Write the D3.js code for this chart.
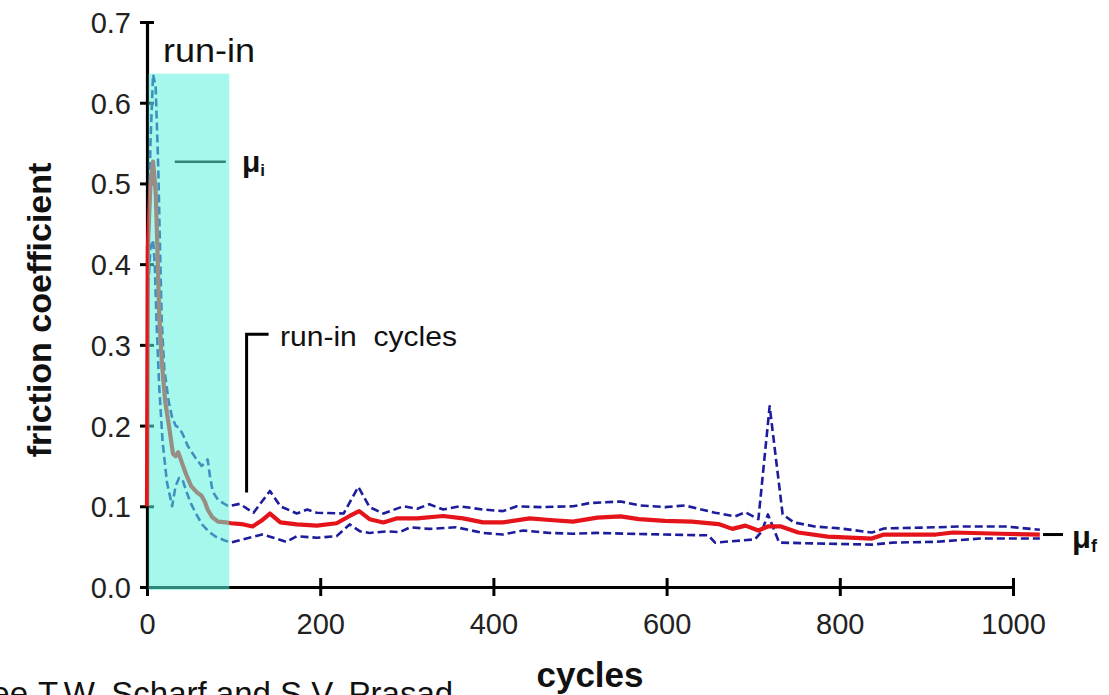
<!DOCTYPE html>
<html>
<head>
<meta charset="utf-8">
<script src="https://cdn.jsdelivr.net/npm/d3@7"></script>
<style>
  html, body { margin: 0; padding: 0; background: #fff; }
  svg { display: block; }
  text { font-family: "Liberation Sans", Arial, sans-serif; }
</style>
</head>
<body>
<svg id="chart" width="1109" height="695"></svg>
<script>
// Friction coefficient vs. sliding cycles: mean curve with upper/lower envelopes.
const meanCycles = [0,1,4,7,10,12,14,17,21,26,30,33,36,40,45,51,58,63,67,70,75,82,91,97,109,122,132,142,154,173,196,219,234,245,257,273,288,312,342,365,388,411,442,465,492,520,547,568,598,629,660,676,691,706,717,732,752,786,837,851,911,931,986,1031];
const meanValues = [0.10,0.42,0.50,0.527,0.49,0.42,0.34,0.28,0.23,0.195,0.165,0.162,0.167,0.155,0.14,0.125,0.117,0.113,0.105,0.096,0.087,0.081,0.08,0.079,0.078,0.075,0.082,0.091,0.08,0.0775,0.076,0.079,0.088,0.094,0.084,0.08,0.085,0.085,0.088,0.085,0.08,0.08,0.085,0.083,0.081,0.086,0.0875,0.084,0.082,0.081,0.078,0.072,0.076,0.07,0.075,0.075,0.0675,0.0625,0.06,0.065,0.065,0.0675,0.066,0.065];

const upperCycles = [0,1,4,7,10,13,15,17,20,25,29,33,37,41,47,56,63,68,70,73,76,82,94,107,123,142,154,173,185,196,227,244,257,273,296,312,326,342,361,388,411,427,454,492,511,547,569,598,621,656,679,691,706,719,734,747,771,801,837,851,911,941,991,1031];
const upperValues = [0.13,0.40,0.55,0.635,0.62,0.52,0.42,0.33,0.27,0.23,0.21,0.20,0.197,0.19,0.175,0.16,0.15,0.155,0.158,0.135,0.118,0.108,0.10,0.103,0.092,0.119,0.10,0.091,0.096,0.092,0.091,0.124,0.099,0.091,0.10,0.097,0.1025,0.096,0.10,0.096,0.094,0.10,0.099,0.10,0.104,0.106,0.101,0.099,0.101,0.092,0.0875,0.0925,0.084,0.224,0.09,0.08,0.075,0.0725,0.0675,0.0725,0.074,0.075,0.075,0.071];

const lowerCycles = [0,1,4,7,9,11,14,18,23,29,33,37,41,45,50,57,64,72,80,89,97,111,133,146,161,173,196,219,234,246,257,277,292,304,326,357,388,411,434,465,492,520,554,598,648,656,702,710,717,730,771,837,861,911,962,1031];
const lowerValues = [0.12,0.36,0.42,0.43,0.40,0.33,0.25,0.18,0.13,0.10,0.125,0.135,0.133,0.12,0.105,0.09,0.077,0.068,0.062,0.058,0.055,0.059,0.065,0.061,0.056,0.063,0.061,0.063,0.0775,0.069,0.067,0.069,0.068,0.074,0.072,0.074,0.067,0.065,0.07,0.067,0.066,0.067,0.066,0.065,0.064,0.055,0.059,0.069,0.09,0.055,0.054,0.0525,0.055,0.056,0.06,0.06];

const xTicks = [0, 200, 400, 600, 800, 1000];
const yTicks = [0, 0.1, 0.2, 0.3, 0.4, 0.5, 0.6, 0.7];

// Annotated quantities
const runInEnd = 95;        // end of the run-in period, cycles
const runInTop = 0.636;     // height of the shaded run-in band
const muInitial = 0.527;    // initial friction coefficient
const muFinal = 0.065;      // steady-state friction coefficient
const runInMarkCycle = 115; // bracket marking the run-in cycles
const runInMarkTop = 0.313;
const runInMarkBottom = 0.117;

const svg = d3.select("#chart");
const x = d3.scaleLinear().domain([0, 1000]).range([147, 1013]);
const y = d3.scaleLinear().domain([0, 0.7]).range([587, 22]);

svg.append("rect").attr("width", 1109).attr("height", 695).attr("fill", "#fff");

// Axes
const xAxis = svg.append("g")
  .attr("transform", `translate(0,${y(0)})`)
  .call(d3.axisBottom(x).tickValues(xTicks).tickFormat(d3.format("d")).tickSizeOuter(0).tickSize(0));
xAxis.select(".domain").attr("stroke", "#000").attr("stroke-width", 3.2);
xAxis.selectAll(".tick line").attr("y1", -9).attr("y2", 9).attr("stroke", "#000").attr("stroke-width", 3);
xAxis.selectAll(".tick text").attr("y", 47).attr("dy", null)
  .attr("font-size", 29).attr("fill", "#222");

const yAxis = svg.append("g")
  .attr("transform", `translate(${x(0)},0)`)
  .call(d3.axisLeft(y).tickValues(yTicks).tickFormat(d3.format(".1f")).tickSizeOuter(0).tickSize(0));
yAxis.select(".domain").attr("stroke", "#000").attr("stroke-width", 3.2);
yAxis.selectAll(".tick line").attr("x1", -7).attr("x2", 7).attr("stroke", "#000").attr("stroke-width", 3);
yAxis.selectAll(".tick text").attr("x", -16).attr("dy", "0.36em")
  .attr("font-size", 29).attr("fill", "#222");

// Data curves
const line = d3.line().x(d => x(d[0])).y(d => y(d[1]));
const zip = (cs, vs) => cs.map((c, i) => [c, vs[i]]);

const dashedStyle = sel => sel.attr("fill", "none").attr("stroke", "#1c1c9c")
  .attr("stroke-width", 2.6).attr("stroke-dasharray", "8,4").attr("stroke-linejoin", "round");

svg.append("path").datum(zip(lowerCycles, lowerValues)).attr("d", line).call(dashedStyle);
svg.append("path").datum(zip(upperCycles, upperValues)).attr("d", line).call(dashedStyle);
svg.append("path").datum(zip(meanCycles, meanValues)).attr("d", line)
  .attr("fill", "none").attr("stroke", "#e4141a").attr("stroke-width", 4.2).attr("stroke-linejoin", "round");

// Marker for the initial friction coefficient
svg.append("line")
  .attr("x1", x(32)).attr("x2", x(91)).attr("y1", y(muInitial)).attr("y2", y(muInitial))
  .attr("stroke", "#000").attr("stroke-width", 2.5);

// Shaded run-in band, drawn translucent over curves and axes
svg.append("rect")
  .attr("x", x(0) + 1.6).attr("y", y(runInTop))
  .attr("width", x(runInEnd) - x(0) - 1.6).attr("height", y(0) + 3 - y(runInTop))
  .attr("fill", "rgb(91,242,218)").attr("fill-opacity", 0.55);

// Labels
svg.append("text").attr("x", 163).attr("y", 62).attr("font-size", 33).attr("fill", "#111")
  .attr("textLength", 92).attr("lengthAdjust", "spacingAndGlyphs").text("run-in");

svg.append("text").attr("x", 242).attr("y", y(muInitial) + 10)
  .attr("font-family", "'Liberation Serif', 'Times New Roman', serif").attr("font-weight", "bold")
  .attr("font-size", 30).attr("fill", "#111")
  .html('μ<tspan font-size="17" dy="4">i</tspan>');

// Bracket for the run-in cycles
svg.append("path")
  .attr("d", `M${x(runInMarkCycle) + 22},${y(runInMarkTop)} H${x(runInMarkCycle)} V${y(runInMarkBottom)}`)
  .attr("fill", "none").attr("stroke", "#000").attr("stroke-width", 3);
svg.append("text").attr("x", 280).attr("y", 346).attr("font-size", 28).attr("fill", "#111")
  .attr("xml:space", "preserve").attr("textLength", 177).attr("lengthAdjust", "spacingAndGlyphs")
  .text("run-in  cycles");

// Marker for the steady-state friction coefficient
svg.append("line")
  .attr("x1", 1043).attr("x2", 1063).attr("y1", y(muFinal)).attr("y2", y(muFinal))
  .attr("stroke", "#000").attr("stroke-width", 3);
svg.append("text").attr("x", 1072).attr("y", y(muFinal) + 13)
  .attr("font-family", "'Liberation Serif', 'Times New Roman', serif").attr("font-weight", "bold")
  .attr("font-size", 31).attr("fill", "#111")
  .html('μ<tspan font-size="18" dy="4">f</tspan>');

// Axis titles
svg.append("text")
  .attr("transform", "translate(51,310) rotate(-90)")
  .attr("text-anchor", "middle").attr("font-weight", "bold").attr("font-size", 34).attr("fill", "#111")
  .text("friction coefficient");
svg.append("text").attr("x", 590).attr("y", 687).attr("text-anchor", "middle")
  .attr("font-weight", "bold").attr("font-size", 35).attr("fill", "#111").text("cycles");

// Source line along the bottom edge
svg.append("text").attr("x", 38).attr("y", 705).attr("font-size", 33).attr("fill", "#111")
  .text("T.W. Scharf and S.V. Prasad");
svg.append("text").attr("x", 28).attr("y", 705).attr("text-anchor", "end").attr("font-size", 33).attr("fill", "#111")
  .text("see");
</script>
</body>
</html>
